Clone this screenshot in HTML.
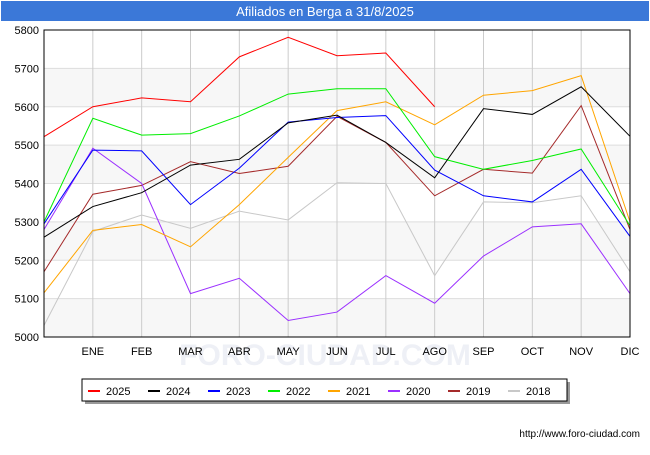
<!DOCTYPE html>
<html><head><meta charset="utf-8"><style>
body{margin:0;background:#fff;font-family:"Liberation Sans",sans-serif;}
svg text{font-family:"Liberation Sans",sans-serif;}
</style></head><body>
<svg width="650" height="450">
<rect x="0" y="0" width="650" height="450" fill="#fff"/>
<rect x="1" y="1" width="648" height="20" fill="#3b78d8"/>
<text x="325" y="16" text-anchor="middle" fill="#fff" font-size="13">Afiliados en Berga a 31/8/2025</text>
<g id="grid"></g>
<text x="325" y="365" text-anchor="middle" font-size="30" fill="#eef0f6" font-weight="bold">FORO-CIUDAD.COM</text>
<g id="series"></g>
<rect x="44" y="30" width="586" height="307" fill="none" stroke="#000" stroke-width="1"/>
<g id="axes"></g>
<rect x="85" y="382" width="485" height="22" fill="#999"/>
<rect x="82" y="379" width="485" height="22" fill="#fff" stroke="#000"/>
<g id="legend"></g>
<text x="640" y="437" text-anchor="end" font-size="10" fill="#000">http://www.foro-ciudad.com</text>
</svg>
<script>
const months=["","ENE","FEB","MAR","ABR","MAY","JUN","JUL","AGO","SEP","OCT","NOV","DIC"];
const yTicks=[5000,5100,5200,5300,5400,5500,5600,5700,5800];
const seriesNames=["2025","2024","2023","2022","2021","2020","2019","2018"];
const seriesColors=["#ff0000","#000000","#0000ff","#00ee00","#ffa500","#9b30ff","#a52a2a","#c8c8c8"];
const s2025=[5522,5600,5623,5613,5730,5781,5733,5740,5600];
const s2024=[5260,5340,5376,5448,5463,5558,5578,5507,5415,5595,5580,5652,5523];
const s2023=[5295,5487,5485,5345,5440,5560,5572,5577,5435,5368,5352,5437,5262];
const s2022=[5300,5570,5526,5530,5576,5633,5647,5647,5470,5437,5460,5490,5290];
const s2021=[5115,5278,5293,5235,5345,5468,5590,5613,5553,5630,5642,5681,5300];
const s2020=[5280,5492,5400,5113,5153,5043,5065,5160,5088,5211,5287,5295,5113];
const s2019=[5170,5372,5395,5457,5426,5445,5575,5507,5368,5437,5427,5603,5280];
const s2018=[5030,5275,5318,5283,5328,5305,5402,5400,5160,5352,5350,5368,5170];
const allSeries=[s2025,s2024,s2023,s2022,s2021,s2020,s2019,s2018];
const NS="http://www.w3.org/2000/svg";
const X0=44,X1=630,Y0=337,Y1=30,YMIN=5000,YMAX=5800;
const xs=i=>X0+i*(X1-X0)/12;
const ys=v=>Y0-(v-YMIN)/(YMAX-YMIN)*(Y0-Y1);
function mk(t,a,p){const e=document.createElementNS(NS,t);for(const k in a)e.setAttribute(k,a[k]);p.appendChild(e);return e;}
const grid=document.getElementById('grid'),axes=document.getElementById('axes'),ser=document.getElementById('series'),leg=document.getElementById('legend');
for(let i=0;i<yTicks.length-1;i++){
 if(i%2===0){const r=mk('rect',{x:X0,y:ys(yTicks[i+1]),width:X1-X0,height:ys(yTicks[i])-ys(yTicks[i+1]),fill:'#f7f7f7'},grid);
 
 }
}
yTicks.forEach(v=>{
 const l=mk('line',{x1:X0,x2:X1,y1:ys(v),y2:ys(v),stroke:'#ddd'},grid);
 
 
 const t=mk('text',{x:X0-5,y:ys(v)+4,'text-anchor':'end','font-size':'11',fill:'#000'},axes);t.textContent=v;
 
 
});
months.forEach((m,i)=>{
 if(i===0)return;
 const l=mk('line',{x1:xs(i),x2:xs(i),y1:Y1,y2:Y0,stroke:'#ccc'},grid);
 
 
 const t=mk('text',{x:xs(i),y:Y0+18,'text-anchor':'middle','font-size':'11',fill:'#000'},axes);t.textContent=m;
 
 
});
for(let s=allSeries.length-1;s>=0;s--){
 const pts=allSeries[s].map((v,i)=>xs(i)+','+ys(v)).join(' ');
 const p=mk('polyline',{points:pts,fill:'none',stroke:seriesColors[s],'stroke-width':'1'},ser);
 
 
}
seriesNames.forEach((n,i)=>{
 const x=88+i*60;
 const l=mk('line',{x1:x,x2:x+12,y1:391,y2:391,stroke:seriesColors[i],'stroke-width':'2'},leg);
 
 
 const t=mk('text',{x:x+18,y:395,'font-size':'11',fill:'#000'},leg);t.textContent=n;
 
 
});
</script>
</body></html>
